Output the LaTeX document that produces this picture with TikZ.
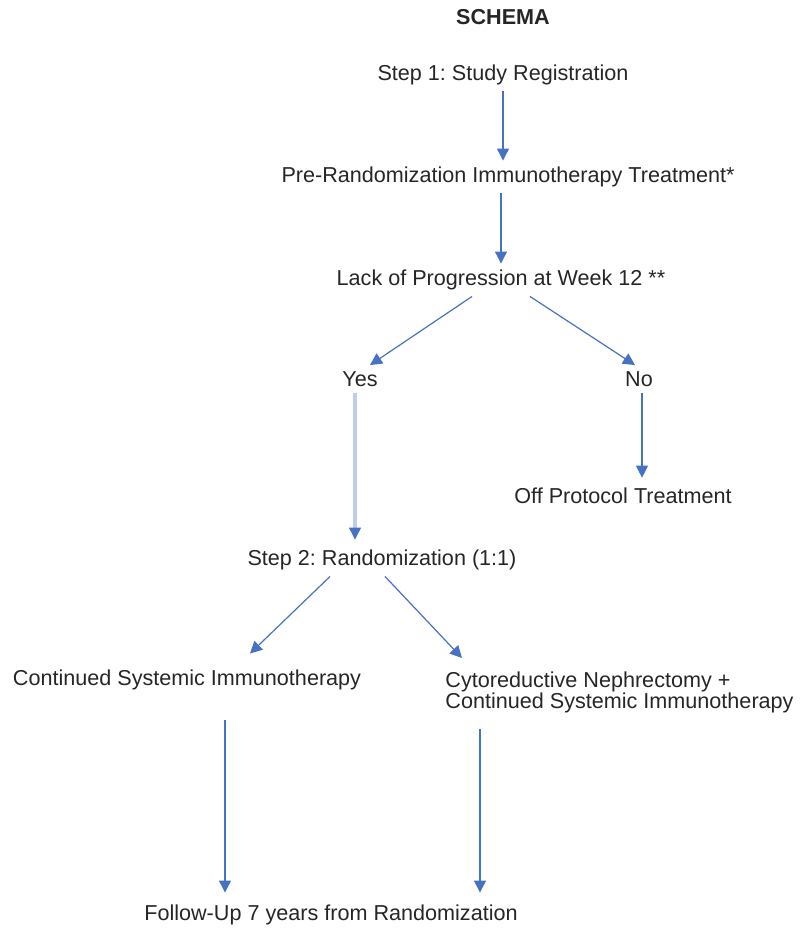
\documentclass[tikz,border=0pt]{standalone}
\usepackage{fontspec}
\setmainfont{Liberation Sans}
\usepackage{tikz}
\usetikzlibrary{positioning,arrows.meta}
\definecolor{arrowblue}{RGB}{70,114,196}
\frenchspacing
\tikzset{
  label/.style={inner sep=3pt, font=\fontsize{10.8}{10.5}\selectfont, text=black!85},
  title/.style={label, font=\fontsize{10.8}{10.5}\selectfont\bfseries},
  fwd/.style={-{Triangle[length=6pt, width=6pt]}, arrowblue, line width=0.6pt},
  pale/.style={draw=arrowblue!35, line width=1.6pt,
               -{Triangle[length=6pt, width=6pt, color=arrowblue, line width=0.6pt]}},
}

\begin{document}
\begin{tikzpicture}[x=0.5pt, y=-0.5pt]
  \useasboundingbox (0,0) rectangle (809,942);

  \node[title] (schema) at (503,17) {SCHEMA};
  \node[label] (step1) at (503,75) {Step 1: Study Registration};
  \node[label] (pretreat) at (508,177) {Pre-Randomization Immunotherapy Treatment*};
  \node[label] (lack) at (501,280) {Lack of Progression at Week 12 **};
  \node[label] (yes) at (360,379) {Yes};
  \node[label] (no) at (639,379) {No};
  \node[label] (offtx) at (623,496) {Off Protocol Treatment};
  \node[label] (step2) at (382,560) {Step 2: Randomization (1:1)};
  \node[label] (contsys) at (187,680) {Continued Systemic Immunotherapy};
  \node[label, align=left, anchor=north west] (combo) at (439,665)
    {Cytoreductive Nephrectomy +\\Continued Systemic Immunotherapy};
  \node[label] (follow) at (331,915) {Follow-Up 7 years from Randomization};

  \draw[fwd] (step1.south) -- (step1.south |- pretreat.north);
  \draw[fwd] (pretreat.south -| lack.north) -- (lack.north);
  \draw[fwd] ([xshift=-14.5pt]lack.south) -- ([xshift=5pt]yes.north);
  \draw[fwd] ([xshift=14.5pt]lack.south) -- ([xshift=-2pt]no.north);
  \draw[pale] ([xshift=-2.5pt]yes.south) -- ([xshift=-2.5pt, yshift=2pt]yes.south |- step2.north);
  \draw[fwd] ([xshift=1.5pt]no.south) -- ([xshift=1.5pt, yshift=2pt]no.south |- offtx.north);

  \draw[fwd] ([xshift=-26pt]step2.south) -- ([xshift=31.5pt, yshift=5pt]contsys.north);
  \draw[fwd] ([xshift=1.5pt]step2.south) -- ([xshift=11.5pt, yshift=3.5pt]combo.north west);

  \draw[fwd, shorten <=12pt, shorten >=3pt] ([xshift=19pt]contsys.south)
    -- ([xshift=19pt]contsys.south |- follow.north);
  \draw[fwd, shorten <=5pt, shorten >=3pt] ([xshift=20.5pt]combo.south west)
    -- ([xshift=20.5pt]combo.south west |- follow.north);
\end{tikzpicture}
\end{document}
